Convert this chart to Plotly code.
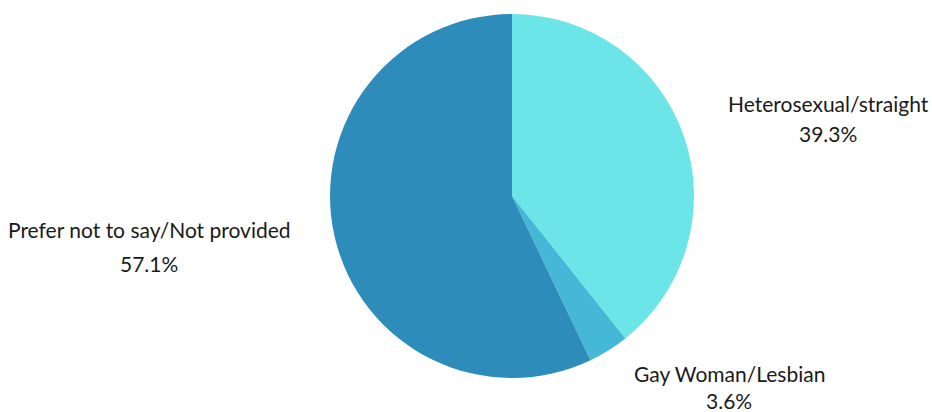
import plotly.graph_objects as go

labels = ["Heterosexual/straight", "Gay Woman/Lesbian", "Prefer not to say/Not provided"]
values = [39.3, 3.6, 57.1]
colors = ["#6BE5E8", "#45B8D8", "#2E8CBB"]

# label spots in pixels: x center, y of name line, y of percent line
label_pos = {
    "Heterosexual/straight": (828, 103, 133),
    "Gay Woman/Lesbian": (729, 373, 400),
    "Prefer not to say/Not provided": (149, 229, 263),
}

W, H = 932, 412
cx, cy, r = 512, 196, 182

fig = go.Figure(go.Pie(
    labels=labels,
    values=values,
    sort=False,
    direction="clockwise",
    rotation=0,
    marker=dict(colors=colors, line=dict(width=0)),
    textinfo="none",
    hoverinfo="label+percent",
    showlegend=False,
    domain=dict(x=[(cx - r) / W, (cx + r) / W], y=[(H - cy - r) / H, (H - cy + r) / H]),
))

font = dict(family="Lato, Open Sans, sans-serif", size=21, color="#1a1a1a")
for lab, val in zip(labels, values):
    x, y1, y2 = label_pos[lab]
    fig.add_annotation(x=x / W, y=1 - y1 / H, xref="paper", yref="paper",
                       text=lab, showarrow=False, font=font, xanchor="center", yanchor="middle")
    fig.add_annotation(x=x / W, y=1 - y2 / H, xref="paper", yref="paper",
                       text=f"{val:.1f}%", showarrow=False, font=font, xanchor="center", yanchor="middle")

fig.update_layout(
    width=W, height=H,
    margin=dict(l=0, r=0, t=0, b=0),
    paper_bgcolor="white",
    plot_bgcolor="white",
)

# drop the default body margin so the figure fills the window exactly
fig.write_html("out.html", config={"displayModeBar": False},
               post_script="document.body.style.margin='0';document.body.style.overflow='hidden';")
